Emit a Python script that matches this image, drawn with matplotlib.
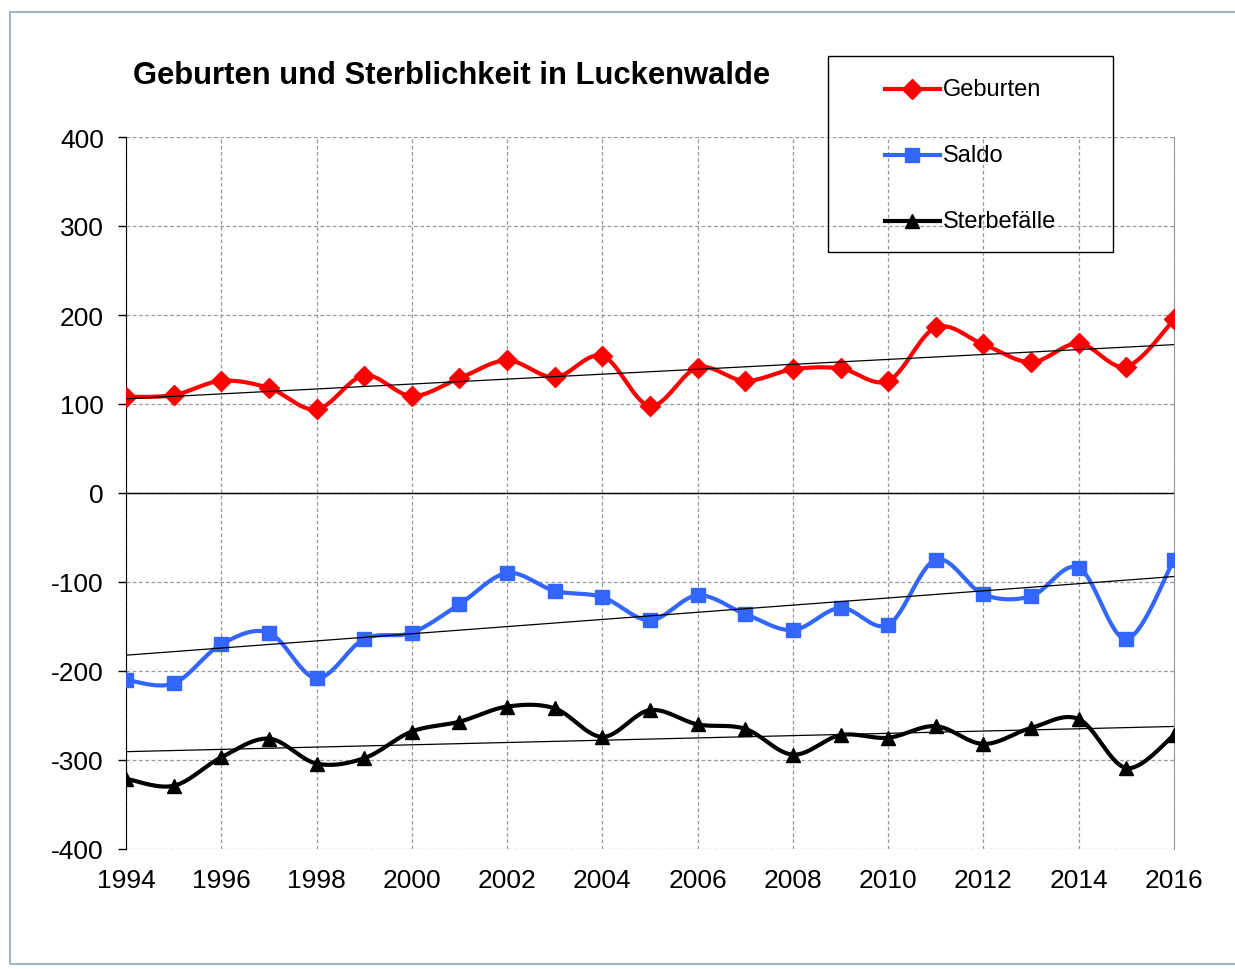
import matplotlib
matplotlib.use('Agg')
import matplotlib.pyplot as plt
import numpy as np
from matplotlib.lines import Line2D
from matplotlib.patches import Rectangle

plt.rcParams['font.family'] = ['Liberation Sans', 'DejaVu Sans']
plt.rcParams['axes.unicode_minus'] = False

years = list(range(1994, 2017))
geburten = [108, 110, 126, 118, 94, 132, 109, 129, 149, 130, 154, 98, 141, 126, 139, 140, 126, 186, 167, 147, 168, 142, 195]
saldo = [-210, -214, -170, -157, -208, -164, -157, -125, -90, -110, -117, -143, -115, -136, -154, -129, -148, -75, -114, -116, -84, -164, -75]
sterbefaelle = [-321, -329, -297, -276, -304, -298, -268, -257, -240, -242, -274, -244, -260, -265, -294, -272, -275, -262, -282, -264, -254, -309, -272]
yticks = list(range(-400, 401, 100))
xticks = list(range(1994, 2017, 2))


def smooth(x, y, n=30):
    # Excel-style smoothed line (Catmull-Rom via Bezier segments)
    x = np.asarray(x, float)
    y = np.asarray(y, float)
    px = np.concatenate([[x[0]], x, [x[-1]]])
    py = np.concatenate([[y[0]], y, [y[-1]]])
    t = np.linspace(0, 1, n)[:, None]
    xs, ys = [], []
    for i in range(1, len(px) - 2):
        p0 = np.array([px[i], py[i]])
        p3 = np.array([px[i + 1], py[i + 1]])
        c1 = p0 + (p3 - np.array([px[i - 1], py[i - 1]])) / 6
        c2 = p3 - (np.array([px[i + 2], py[i + 2]]) - p0) / 6
        pts = ((1 - t) ** 3) * p0 + 3 * ((1 - t) ** 2) * t * c1 + 3 * (1 - t) * t ** 2 * c2 + t ** 3 * p3
        xs.append(pts[:, 0])
        ys.append(pts[:, 1])
    return np.concatenate(xs), np.concatenate(ys)


W, H = 1235, 970
fig = plt.figure(figsize=(W / 100, H / 100), dpi=100)
ax = fig.add_axes([126 / W, 1 - 850 / H, (1174 - 126) / W, (850 - 138) / H])

series = [
    ('Geburten', geburten, '#ff0000', 'D', 10),
    ('Saldo', saldo, '#3366ff', 's', 10),
    ('Sterbefälle', sterbefaelle, '#000000', '^', 10),
]
for label, vals, color, marker, ms in series:
    sx, sy = smooth(years, vals)
    ax.plot(sx, sy, color=color, lw=3, zorder=3)
    ax.plot(years, vals, ls='none', marker=marker, color=color, ms=ms, zorder=4)
    # linear trend
    k, d = np.polyfit(years, vals, 1)
    ax.plot([years[0], years[-1]], [k * years[0] + d, k * years[-1] + d], color='black', lw=0.9, zorder=5)

ax.axhline(0, color='black', lw=1, zorder=2)
ax.set_xlim(1994, 2016)
ax.set_ylim(-400, 400)
ax.set_xticks(xticks)
ax.set_yticks(yticks)
ax.grid(True, color='#999999', ls=(0, (3, 2)), lw=0.9)
ax.tick_params(axis='y', length=6, width=1, direction='out', labelsize=19, pad=10)
ax.tick_params(axis='x', length=0, labelsize=19, pad=14)
ax.spines['left'].set_color('black')
ax.spines['right'].set_color('#999999')
ax.spines['top'].set_visible(False)
ax.spines['bottom'].set_visible(False)

fig.text(133 / W, 1 - 76 / H, 'Geburten und Sterblichkeit in Luckenwalde', fontsize=22.3, fontweight='bold', va='center')

# legend drawn by hand to match box layout
fig.patches.append(Rectangle((828 / W, 1 - 253 / H), (1113 - 828) / W, (253 - 57) / H,
                             transform=fig.transFigure, fill=False, edgecolor='black', lw=1))
for i, (label, vals, color, marker, ms) in enumerate(series):
    yy = 1 - (90 + 66 * i) / H
    fig.add_artist(Line2D([885 / W, 940 / W], [yy, yy], color=color, lw=3, transform=fig.transFigure))
    fig.add_artist(Line2D([912 / W], [yy], color=color, marker=marker, ms=ms, transform=fig.transFigure))
    fig.text(943 / W, yy, label, fontsize=17, va='center')

# spreadsheet frame
fig.patches.append(Rectangle((10 / W, 5 / H), 1.0, 952 / H, transform=fig.transFigure,
                             fill=False, edgecolor='#a8b4c4', lw=1.5))

fig.savefig('out.png', dpi=100)
